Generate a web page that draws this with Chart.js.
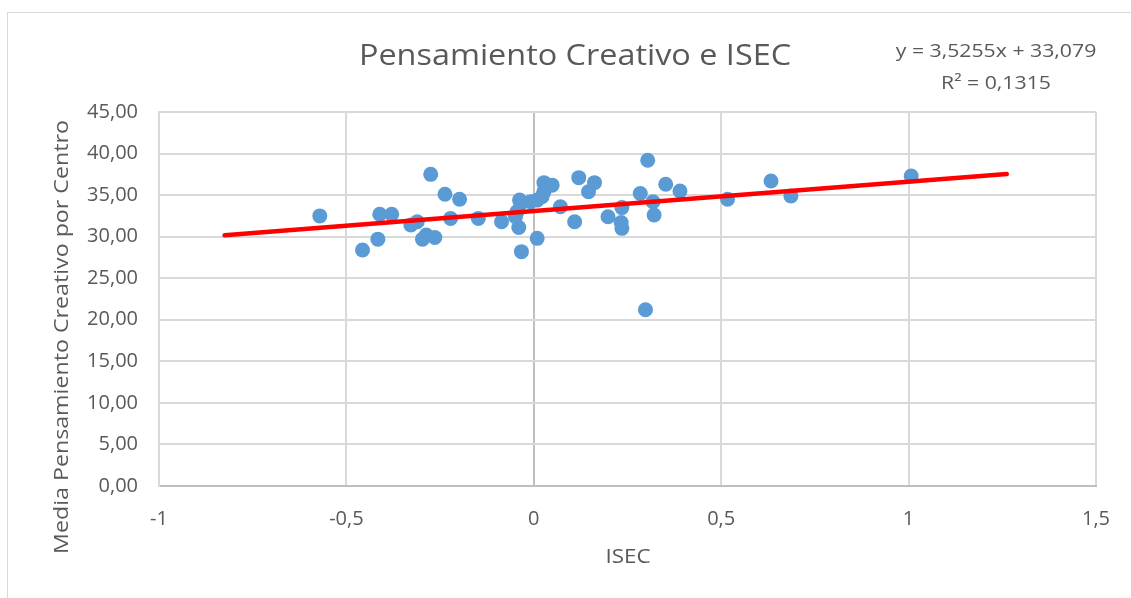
<!DOCTYPE html>
<html>
<head>
<meta charset="utf-8">
<script src="https://cdn.jsdelivr.net/npm/chart.js@4.4.1/dist/chart.umd.min.js"></script>
<style>
  html, body { margin: 0; padding: 0; background: #fff; }
  #wrap { position: relative; width: 1131px; height: 598px; overflow: hidden; }
  #frame { position: absolute; left: 7px; top: 12px; width: 1200px; height: 700px; border: 1px solid #d9d9d9; }
  canvas { position: absolute; left: 0; top: 0; }
</style>
</head>
<body>
<div id="wrap"><div id="frame"></div><canvas id="chart" width="1131" height="598"></canvas></div>
<script>
// values
const isec = [-0.571, -0.457, -0.416, -0.411, -0.379, -0.328, -0.311, -0.297, -0.287, -0.275,
  -0.264, -0.237, -0.222, -0.198, -0.148, -0.086, -0.049, -0.045, -0.040, -0.038,
  -0.035, -0.033, -0.009, 0.009, 0.009, 0.022, 0.027, 0.027, 0.049, 0.071,
  0.109, 0.120, 0.146, 0.162, 0.198, 0.233, 0.235, 0.235, 0.284, 0.298,
  0.304, 0.318, 0.321, 0.352, 0.390, 0.517, 0.633, 0.686, 1.007];
const creativo = [32.5, 28.4, 29.7, 32.7, 32.7, 31.4, 31.8, 29.7, 30.2, 37.5,
  29.9, 35.1, 32.2, 34.5, 32.2, 31.8, 32.4, 33.0, 31.1, 34.4,
  34.0, 28.2, 34.2, 29.8, 34.4, 34.8, 35.4, 36.5, 36.2, 33.6,
  31.8, 37.1, 35.4, 36.5, 32.4, 31.7, 31.0, 33.5, 35.2, 21.2,
  39.2, 34.2, 32.6, 36.3, 35.5, 34.5, 36.7, 34.9, 37.3];
const trendX = [-0.825, 1.262];
const trendY = [30.17, 37.53];
const xTicks = [-1, -0.5, 0, 0.5, 1, 1.5];
const yTicks = [0, 5, 10, 15, 20, 25, 30, 35, 40, 45];
const chartTitle = 'Pensamiento Creativo e ISEC';
const equation = ['y = 3,5255x + 33,079', 'R² = 0,1315'];
const xTitle = 'ISEC';
const yTitle = 'Media Pensamiento Creativo por Centro';

const textColor = '#595959';
const font = '"Open Sans", "Noto Sans", sans-serif';

// draw text stretched a bit along its direction, like the Excel picture
function stretchedText(ctx, text, x, y, size, stretch, angle) {
  ctx.save();
  ctx.translate(x, y);
  if (angle) ctx.rotate(angle);
  ctx.scale(stretch, 1);
  ctx.font = size + 'px ' + font;
  ctx.fillText(text, 0, 0);
  ctx.restore();
}

const labelsPlugin = {
  id: 'labels',
  afterDraw(chart) {
    const ctx = chart.ctx;
    ctx.save();
    ctx.fillStyle = textColor;
    ctx.textAlign = 'center';
    ctx.textBaseline = 'middle';
    stretchedText(ctx, chartTitle, 575, 56, 30, 1.08);
    stretchedText(ctx, equation[0], 996, 52, 18, 1.18);
    stretchedText(ctx, equation[1], 996, 84, 18, 1.18);
    stretchedText(ctx, xTitle, 628, 557, 20, 1.12);
    stretchedText(ctx, yTitle, 62, 337, 20, 1.16, -Math.PI / 2);
    ctx.restore();
  }
};

new Chart(document.getElementById('chart'), {
  type: 'scatter',
  data: {
    datasets: [
      {
        type: 'line',
        data: trendX.map((x, i) => ({ x: x, y: trendY[i] })),
        borderColor: '#ff0000',
        borderWidth: 4.5,
        borderCapStyle: 'round',
        pointRadius: 0,
        fill: false,
        order: 0
      },
      {
        data: isec.map((x, i) => ({ x: x, y: creativo[i] })),
        backgroundColor: '#5b9bd5',
        borderColor: '#5b9bd5',
        borderWidth: 0,
        pointRadius: 7.5,
        order: 1
      }
    ]
  },
  options: {
    responsive: false,
    animation: false,
    devicePixelRatio: 1,
    layout: { padding: { left: 0, right: 33, top: 112, bottom: 0 } },
    plugins: { legend: { display: false }, tooltip: { enabled: false } },
    scales: {
      x: {
        type: 'linear',
        min: -1, max: 1.5,
        afterBuildTicks: s => { s.ticks = xTicks.map(v => ({ value: v })); },
        afterFit: s => { s.height = 112; },
        grid: {
          drawTicks: false,
          lineWidth: 2,
          color: c => (c.tick && c.tick.value === 0) ? '#bfbfbf' : '#d9d9d9'
        },
        border: { color: '#bfbfbf', width: 2 },
        ticks: {
          padding: 21,
          color: textColor,
          font: { family: font, size: 20 },
          callback: v => String(v).replace('.', ',')
        }
      },
      y: {
        min: 0, max: 45,
        afterBuildTicks: s => { s.ticks = yTicks.map(v => ({ value: v })); },
        afterFit: s => { s.width = 159; },
        grid: { drawTicks: false, lineWidth: 2, color: '#d9d9d9' },
        border: { color: '#d9d9d9', width: 2 },
        ticks: {
          padding: 21,
          color: textColor,
          font: { family: font, size: 20 },
          callback: v => v.toFixed(2).replace('.', ',')
        }
      }
    }
  },
  plugins: [labelsPlugin]
});
</script>
</body>
</html>
